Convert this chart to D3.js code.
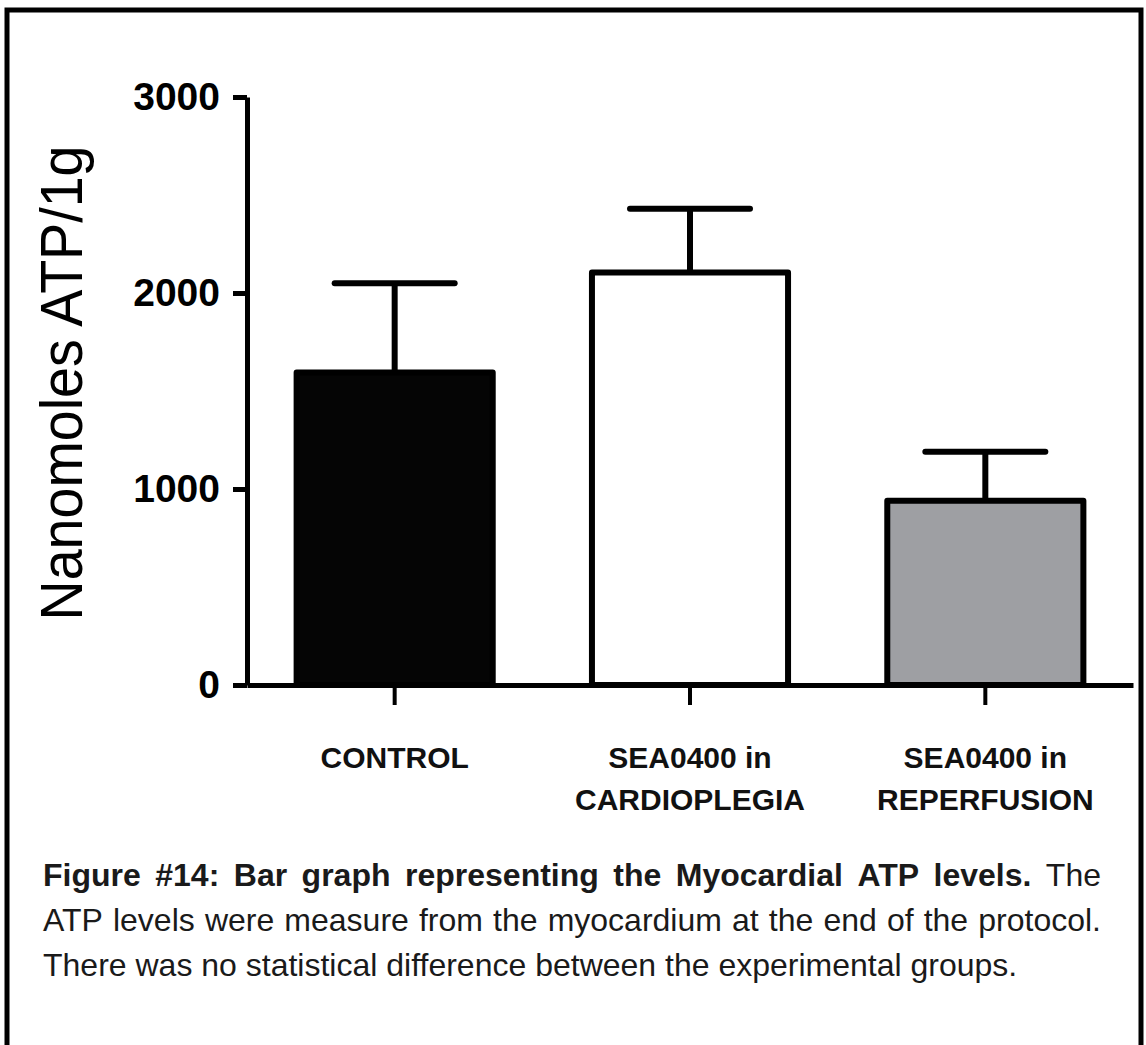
<!DOCTYPE html>
<html>
<head>
<meta charset="utf-8">
<script src="https://cdn.jsdelivr.net/npm/d3@7"></script>
<style>
  html, body { margin: 0; padding: 0; background: #fff; }
  svg { display: block; }
</style>
</head>
<body>
<svg id="chart" width="1146" height="1045"></svg>
<script>
// groups and values (nanomoles ATP / 1 g, mean and SEM)
const groups = ["CONTROL", "SEA0400 in CARDIOPLEGIA", "SEA0400 in REPERFUSION"];
const groupLines = [["CONTROL"], ["SEA0400 in", "CARDIOPLEGIA"], ["SEA0400 in", "REPERFUSION"]];
const means = [1595, 2105, 940];
const sems = [455, 325, 250];
const fills = ["#050505", "#ffffff", "#9e9fa3"];
const yTicks = [0, 1000, 2000, 3000];
const yLabel = "Nanomoles ATP/1g";

// caption, one entry per printed line
const captionLines = [
  [{ text: "Figure #14: Bar graph representing the Myocardial ATP levels.", bold: true }, { text: "The", bold: false }],
  [{ text: "ATP levels were measure from the myocardium at the end of the protocol.", bold: false }],
  [{ text: "There was no statistical difference between the experimental groups.", bold: false }]
];

const svg = d3.select("#chart");
const font = "'Liberation Sans', Arial, sans-serif";

// frame round the figure (bottom edge runs off the page)
svg.append("path")
  .attr("d", "M7,1050 V10 H1141 V1050")
  .attr("fill", "none")
  .attr("stroke", "#000")
  .attr("stroke-width", 5);

const axisLeftX = 247;
const axisRightX = 1133;
const y = d3.scaleLinear().domain([0, 3000]).range([685, 97]);
const x = d3.scaleBand()
  .domain(groups)
  .range([axisLeftX, axisRightX])
  .paddingInner(0.336)
  .paddingOuter(0.168);

// bars
svg.append("g")
  .selectAll("rect")
  .data(groups)
  .join("rect")
  .attr("x", (d) => x(d))
  .attr("y", (d, i) => y(means[i]))
  .attr("width", x.bandwidth())
  .attr("height", (d, i) => y(0) - y(means[i]))
  .attr("fill", (d, i) => fills[i])
  .attr("stroke", "#000")
  .attr("stroke-width", 6)
  .attr("stroke-linejoin", "round");

// error bars (upper only)
const capHalf = 60;
const err = svg.append("g")
  .attr("stroke", "#000")
  .attr("stroke-width", 6)
  .attr("stroke-linecap", "round");
err.selectAll("line.stem")
  .data(groups)
  .join("line")
  .attr("class", "stem")
  .attr("stroke-linecap", "butt")
  .attr("x1", (d) => x(d) + x.bandwidth() / 2)
  .attr("x2", (d) => x(d) + x.bandwidth() / 2)
  .attr("y1", (d, i) => y(means[i]))
  .attr("y2", (d, i) => y(means[i] + sems[i]));
err.selectAll("line.cap")
  .data(groups)
  .join("line")
  .attr("class", "cap")
  .attr("x1", (d) => x(d) + x.bandwidth() / 2 - capHalf)
  .attr("x2", (d) => x(d) + x.bandwidth() / 2 + capHalf)
  .attr("y1", (d, i) => y(means[i] + sems[i]))
  .attr("y2", (d, i) => y(means[i] + sems[i]));

// y axis
svg.append("g")
  .attr("transform", `translate(${axisLeftX},0)`)
  .call(d3.axisLeft(y).tickValues(yTicks).tickFormat(d3.format("d"))
    .tickSize(14).tickSizeOuter(0).tickPadding(13))
  .call((g) => g.select(".domain").attr("stroke-width", 5))
  .call((g) => g.selectAll(".tick line").attr("stroke-width", 5))
  .call((g) => g.selectAll(".tick text")
    .attr("font-family", font)
    .attr("font-weight", "bold")
    .attr("font-size", 39)
    .attr("fill", "#000"));

// x axis
svg.append("g")
  .attr("transform", `translate(0,${y(0)})`)
  .call(d3.axisBottom(x).tickSize(20).tickSizeOuter(0).tickFormat(""))
  .call((g) => g.select(".domain").attr("stroke-width", 5))
  .call((g) => g.selectAll(".tick line").attr("stroke-width", 4));

// category labels
svg.append("g")
  .selectAll("text")
  .data(groups)
  .join("text")
  .attr("x", (d) => x(d) + x.bandwidth() / 2)
  .attr("y", 768)
  .attr("text-anchor", "middle")
  .attr("font-family", font)
  .attr("font-weight", "bold")
  .attr("font-size", 30)
  .attr("fill", "#111")
  .selectAll("tspan")
  .data((d, i) => groupLines[i])
  .join("tspan")
  .attr("x", function () { return d3.select(this.parentNode).attr("x"); })
  .attr("dy", (d, i) => (i === 0 ? 0 : 42))
  .text((d) => d);

// y axis title
svg.append("text")
  .attr("transform", "translate(82,383) rotate(-90)")
  .attr("text-anchor", "middle")
  .attr("font-family", font)
  .attr("font-size", 60)
  .attr("textLength", 475)
  .attr("lengthAdjust", "spacingAndGlyphs")
  .attr("fill", "#000")
  .text(yLabel);

// caption, justified between left and right margins
const capLeft = 43;
const capRight = 1101;
const capTop = 886;
const capStep = 45;
const cap = svg.append("g")
  .attr("font-family", font)
  .attr("font-size", 32)
  .attr("fill", "#1a1a1a");

captionLines.forEach((line, li) => {
  const words = [];
  line.forEach((seg) => seg.text.split(" ").forEach((w) => words.push({ w, bold: seg.bold })));
  const nodes = words.map((d) =>
    cap.append("text")
      .attr("y", capTop + li * capStep)
      .attr("font-weight", d.bold ? "bold" : "normal")
      .text(d.w)
  );
  const widths = nodes.map((n) => n.node().getComputedTextLength());
  const total = d3.sum(widths);
  const last = li === captionLines.length - 1;
  const gap = last ? 8.9 : (capRight - capLeft - total) / (words.length - 1);
  let cx = capLeft;
  nodes.forEach((n, i) => {
    n.attr("x", cx);
    cx += widths[i] + gap;
  });
});
</script>
</body>
</html>
